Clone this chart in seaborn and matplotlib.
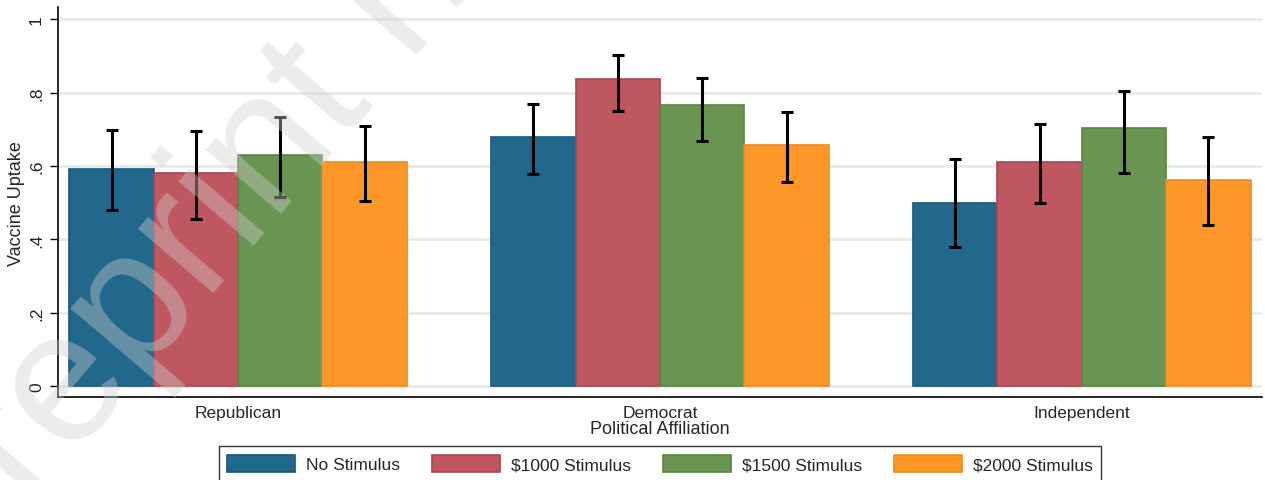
import matplotlib
matplotlib.use("Agg")
import matplotlib.pyplot as plt
import matplotlib.patches as mpatches
import seaborn as sns
import pandas as pd
import numpy as np

groups = ["Republican", "Democrat", "Independent"]
treatments = ["No Stimulus", "$1000 Stimulus", "$1500 Stimulus", "$2000 Stimulus"]
# values per group, in treatment order
uptake_republican = [0.591, 0.580, 0.629, 0.610]
uptake_democrat = [0.680, 0.838, 0.765, 0.657]
uptake_independent = [0.499, 0.611, 0.703, 0.563]
ci_low_republican = [0.480, 0.455, 0.515, 0.504]
ci_high_republican = [0.698, 0.695, 0.733, 0.708]
ci_low_democrat = [0.578, 0.749, 0.668, 0.555]
ci_high_democrat = [0.769, 0.903, 0.841, 0.748]
ci_low_independent = [0.378, 0.499, 0.580, 0.440]
ci_high_independent = [0.620, 0.715, 0.804, 0.679]
yticks = [0, 0.2, 0.4, 0.6, 0.8, 1.0]
ytick_labels = ["0", ".2", ".4", ".6", ".8", "1"]

colors = ["#22678c", "#be5760", "#6a9452", "#fd9729"]
edges = ["#1b5778", "#a84650", "#5a8444", "#f08a1c"]

rows = []
for g, vals, lo, hi in [
    ("Republican", uptake_republican, ci_low_republican, ci_high_republican),
    ("Democrat", uptake_democrat, ci_low_democrat, ci_high_democrat),
    ("Independent", uptake_independent, ci_low_independent, ci_high_independent),
]:
    for t, v, l, h in zip(treatments, vals, lo, hi):
        rows.append({"group": g, "treatment": t, "uptake": v, "lo": l, "hi": h})
df = pd.DataFrame(rows)

sns.set_style("white")
plt.rcParams["font.family"] = ["Liberation Sans", "DejaVu Sans"]

fig = plt.figure(figsize=(12.65, 4.81), dpi=100)
ax = fig.add_axes([0.0458, 0.1726, 0.9518, 0.8104])

sns.barplot(data=df, x="group", y="uptake", hue="treatment", order=groups,
            hue_order=treatments, palette=colors, errorbar=None, width=0.8,
            saturation=1, linewidth=1.2, ax=ax, legend=True)

bar_containers = list(ax.containers)

for i, cont in enumerate(bar_containers):
    for p in cont:
        p.set_edgecolor(edges[i])
        p.set_linewidth(1.2)

for i, cont in enumerate(bar_containers):
    t = treatments[i]
    for j, p in enumerate(cont):
        g = groups[j]
        r = df[(df.group == g) & (df.treatment == t)].iloc[0]
        xc = p.get_x() + p.get_width() / 2
        ax.errorbar([xc], [r.uptake], yerr=[[r.uptake - r.lo], [r.hi - r.uptake]],
                    fmt="none", ecolor="black", elinewidth=2.2, capsize=4.2,
                    capthick=2.2, zorder=5)

ax.set_xlim(-0.427, 2.427)
ax.set_ylim(-0.03, 1.033)
ax.set_yticks(yticks)
ax.set_yticklabels(ytick_labels, rotation=90, va="center", fontsize=12.5)
ax.tick_params(axis="y", left=True, length=6, width=1, pad=4, color="black")
ax.tick_params(axis="x", bottom=False, labelsize=12.5, pad=2)
ax.set_axisbelow(True)
ax.yaxis.grid(True, color="#e4eceb", linewidth=2)
ax.xaxis.grid(False)
for s in ["top", "right"]:
    ax.spines[s].set_visible(False)
for s in ["left", "bottom"]:
    ax.spines[s].set_color("black")
    ax.spines[s].set_linewidth(1.2)
ax.set_ylabel("Vaccine Uptake", fontsize=13, labelpad=3)
ax.set_xlabel("Political Affiliation", fontsize=13, labelpad=0)

if ax.legend_ is not None:
    ax.legend_.remove()
handles = [mpatches.Patch(facecolor=c, edgecolor=e, linewidth=1.2)
           for c, e in zip(colors, edges)]
leg = fig.legend(handles, treatments, loc="lower center", ncol=4,
                 bbox_to_anchor=(0.5217, -0.02), frameon=True, fancybox=False,
                 edgecolor="black", fontsize=12.5, handlelength=3.9,
                 handleheight=1.15, columnspacing=1.85, handletextpad=0.63,
                 borderpad=0.5)
leg.get_frame().set_linewidth(1.0)

fig.text(-0.0407, -0.2557, "Preprint not peer reviewed", rotation=49.5,
         rotation_mode="anchor", fontsize=135, color="#d0d0d0",
         alpha=0.4, ha="left", va="baseline", zorder=10)

fig.savefig("out.png", dpi=100, facecolor="white")
